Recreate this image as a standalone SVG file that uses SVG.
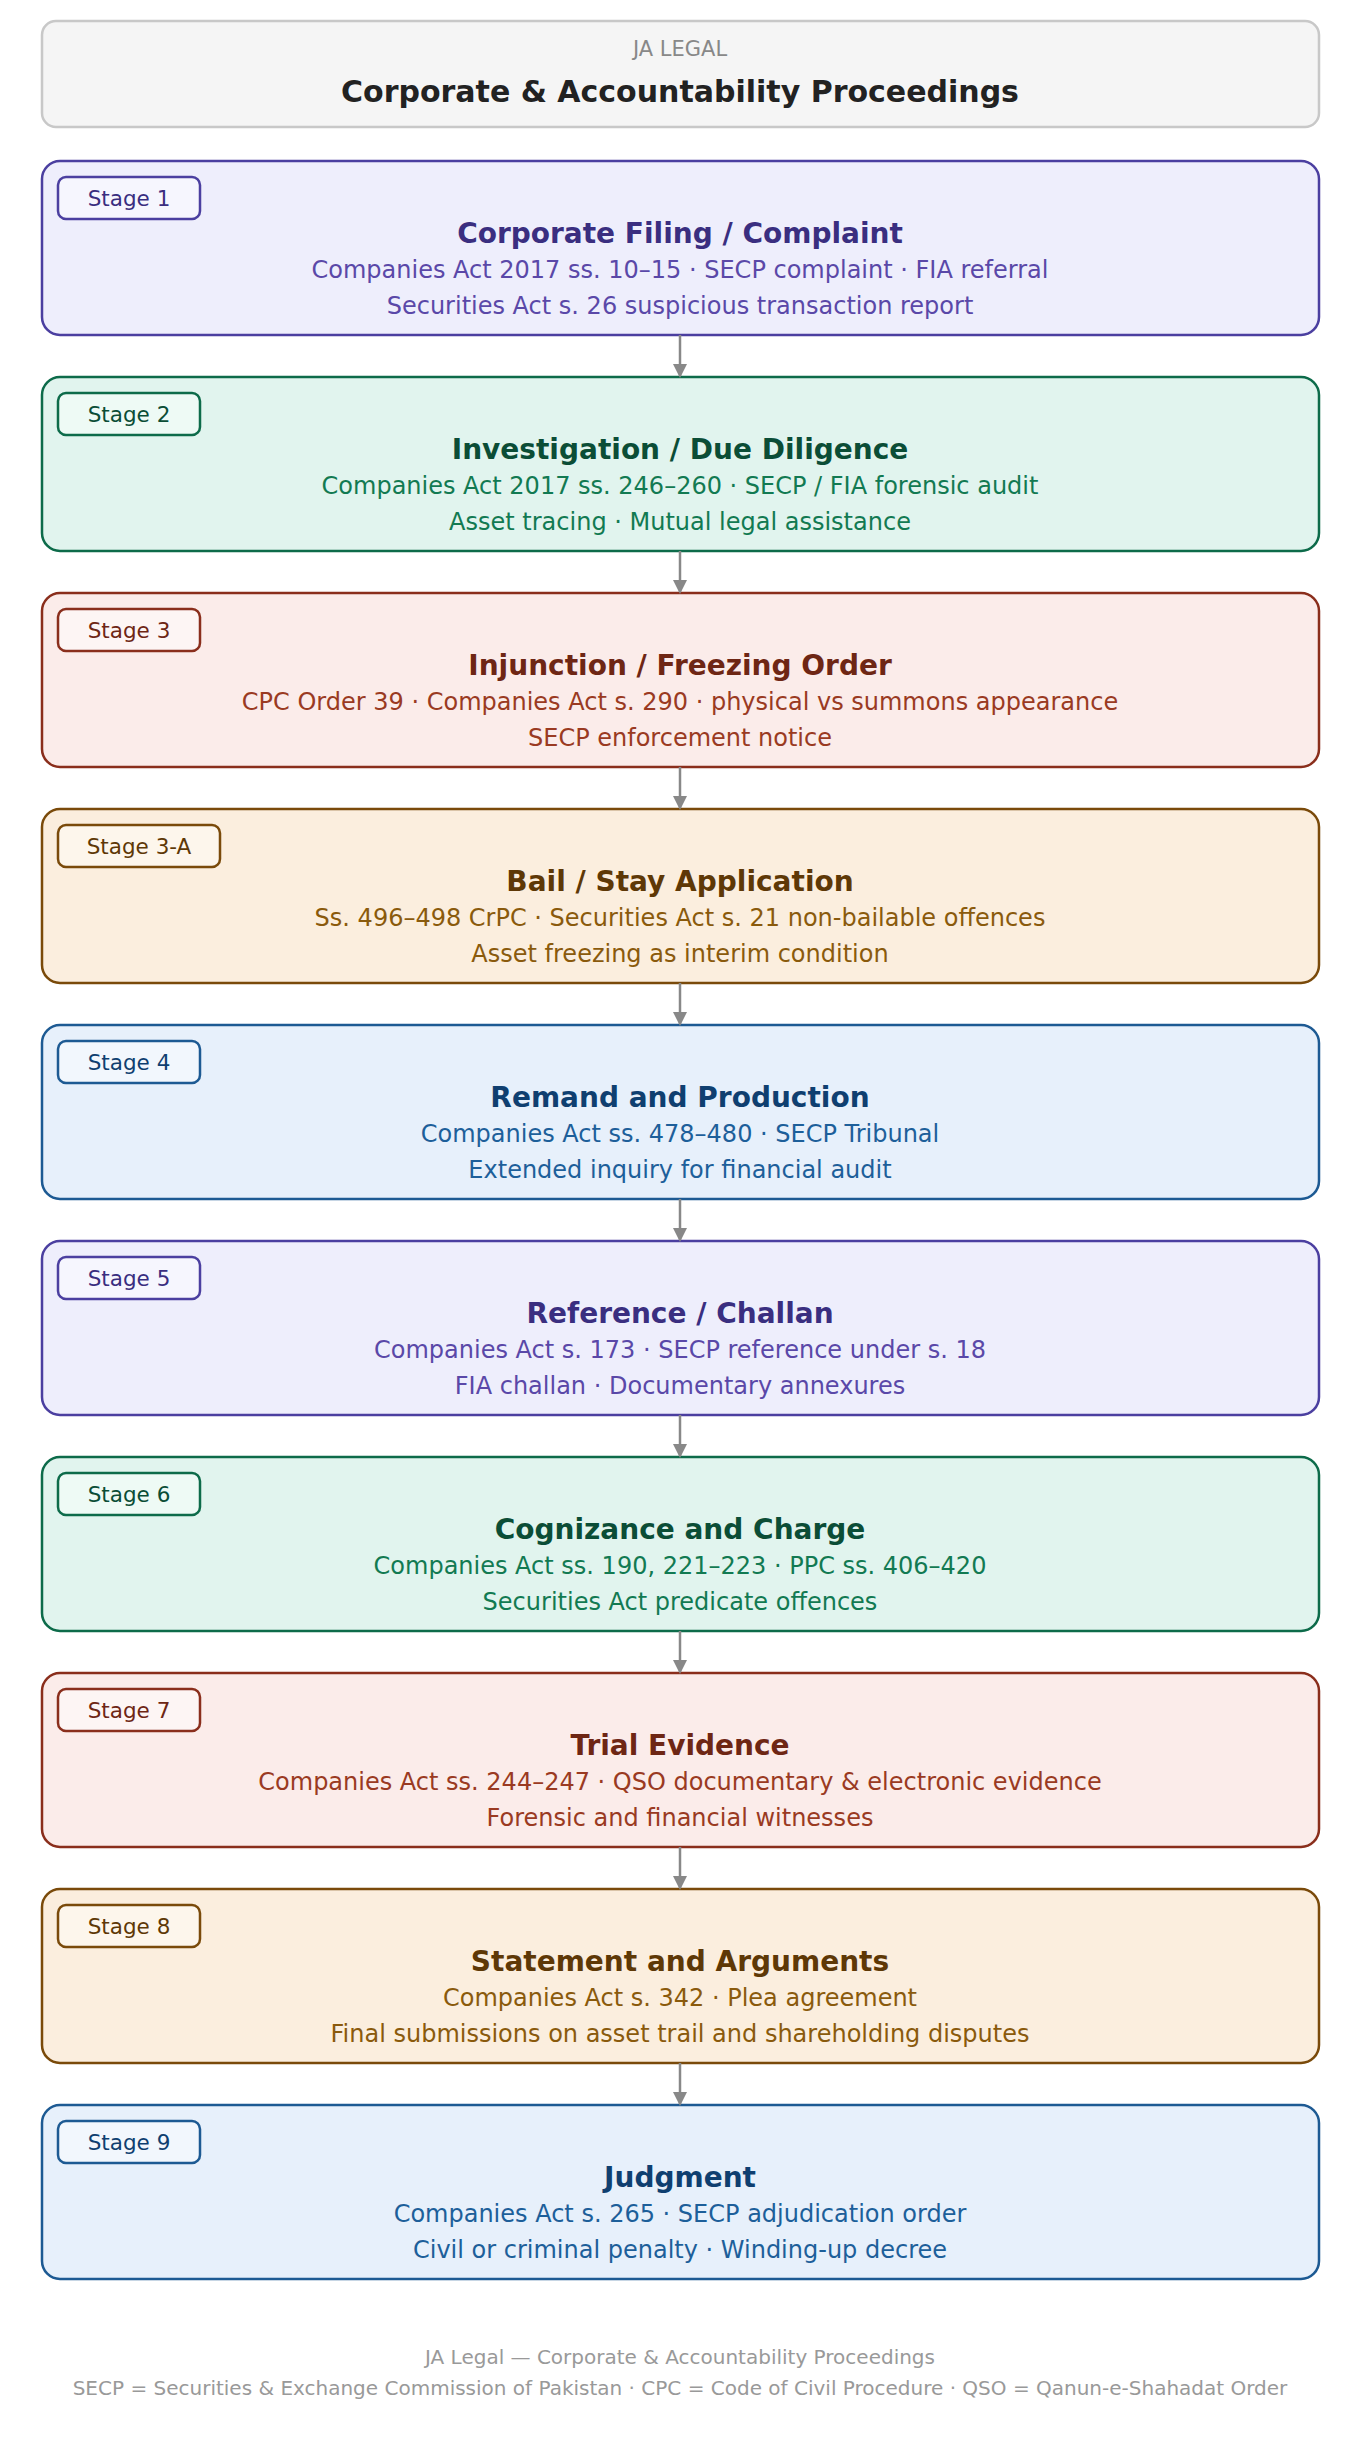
<svg xmlns="http://www.w3.org/2000/svg" width="1360" height="2440" viewBox="0 0 1360 2440">
<style>
text{font-family:"DejaVu Sans","Liberation Sans",sans-serif;text-anchor:middle}
.box{stroke-width:2.5}
.badge{stroke-width:2.5}
.bt{font-size:21.5px;text-anchor:middle}
.t{font-size:28px;font-weight:bold}
.s{font-size:24px}
.p .box{fill:#eeeefc;stroke:#4b3fa0}.p .badge{fill:#f6f6fe;stroke:#4b3fa0}.p .bt,.p .t{fill:#3a2e80}.p .s{fill:#5a48a8}
.g .box{fill:#e1f4ee;stroke:#0d6b4a}.g .badge{fill:#eefaf5;stroke:#0d6b4a}.g .bt,.g .t{fill:#0b4d36}.g .s{fill:#127a52}
.r .box{fill:#fbecea;stroke:#8a2e1c}.r .badge{fill:#fdf5f4;stroke:#8a2e1c}.r .bt,.r .t{fill:#6e2614}.r .s{fill:#9a3a22}
.o .box{fill:#fbeede;stroke:#7a4a0a}.o .badge{fill:#fdf6ec;stroke:#7a4a0a}.o .bt,.o .t{fill:#5e3806}.o .s{fill:#8a5a0c}
.b .box{fill:#e7f0fb;stroke:#1d5a93}.b .badge{fill:#f2f7fd;stroke:#1d5a93}.b .bt,.b .t{fill:#0f3f70}.b .s{fill:#1d5f9a}
.c{stroke:#888;stroke-width:2.5;fill:none}
</style>
<defs><marker id="ah" markerWidth="14" markerHeight="14" refX="12" refY="7" orient="auto" markerUnits="userSpaceOnUse"><path d="M0,0 L14,7 L0,14 z" fill="#888"/></marker></defs>
<rect width="1360" height="2440" fill="#fff"/>
<g id="header">
<rect x="42" y="21" width="1277" height="106" rx="14" fill="#f5f5f5" stroke="#c8c8c8" stroke-width="2.5"/>
<text x="680" y="56" font-size="21" fill="#888">JA LEGAL</text>
<text x="680" y="102" font-size="30" font-weight="bold" fill="#222">Corporate &amp; Accountability Proceedings</text>
</g>
<g id="stage1" class="p" transform="translate(0,161)">
<rect class="box" x="42" y="0" width="1277" height="174" rx="18"/><rect class="badge" x="58" y="16" width="142" height="42" rx="8"/><text class="bt" x="129" y="45">Stage 1</text>
<text class="t" x="680" y="82">Corporate Filing / Complaint</text>
<text class="s" x="680" y="117">Companies Act 2017 ss. 10–15 · SECP complaint · FIA referral</text>
<text class="s" x="680" y="153">Securities Act s. 26 suspicious transaction report</text></g>
<g id="stage2" class="g" transform="translate(0,377)">
<rect class="box" x="42" y="0" width="1277" height="174" rx="18"/><rect class="badge" x="58" y="16" width="142" height="42" rx="8"/><text class="bt" x="129" y="45">Stage 2</text>
<text class="t" x="680" y="82">Investigation / Due Diligence</text>
<text class="s" x="680" y="117">Companies Act 2017 ss. 246–260 · SECP / FIA forensic audit</text>
<text class="s" x="680" y="153">Asset tracing · Mutual legal assistance</text></g>
<g id="stage3" class="r" transform="translate(0,593)">
<rect class="box" x="42" y="0" width="1277" height="174" rx="18"/><rect class="badge" x="58" y="16" width="142" height="42" rx="8"/><text class="bt" x="129" y="45">Stage 3</text>
<text class="t" x="680" y="82">Injunction / Freezing Order</text>
<text class="s" x="680" y="117">CPC Order 39 · Companies Act s. 290 · physical vs summons appearance</text>
<text class="s" x="680" y="153">SECP enforcement notice</text></g>
<g id="stage3a" class="o" transform="translate(0,809)">
<rect class="box" x="42" y="0" width="1277" height="174" rx="18"/><rect class="badge" x="58" y="16" width="162" height="42" rx="8"/><text class="bt" x="139" y="45">Stage 3-A</text>
<text class="t" x="680" y="82">Bail / Stay Application</text>
<text class="s" x="680" y="117">Ss. 496–498 CrPC · Securities Act s. 21 non-bailable offences</text>
<text class="s" x="680" y="153">Asset freezing as interim condition</text></g>
<g id="stage4" class="b" transform="translate(0,1025)">
<rect class="box" x="42" y="0" width="1277" height="174" rx="18"/><rect class="badge" x="58" y="16" width="142" height="42" rx="8"/><text class="bt" x="129" y="45">Stage 4</text>
<text class="t" x="680" y="82">Remand and Production</text>
<text class="s" x="680" y="117">Companies Act ss. 478–480 · SECP Tribunal</text>
<text class="s" x="680" y="153">Extended inquiry for financial audit</text></g>
<g id="stage5" class="p" transform="translate(0,1241)">
<rect class="box" x="42" y="0" width="1277" height="174" rx="18"/><rect class="badge" x="58" y="16" width="142" height="42" rx="8"/><text class="bt" x="129" y="45">Stage 5</text>
<text class="t" x="680" y="82">Reference / Challan</text>
<text class="s" x="680" y="117">Companies Act s. 173 · SECP reference under s. 18</text>
<text class="s" x="680" y="153">FIA challan · Documentary annexures</text></g>
<g id="stage6" class="g" transform="translate(0,1457)">
<rect class="box" x="42" y="0" width="1277" height="174" rx="18"/><rect class="badge" x="58" y="16" width="142" height="42" rx="8"/><text class="bt" x="129" y="45">Stage 6</text>
<text class="t" x="680" y="82">Cognizance and Charge</text>
<text class="s" x="680" y="117">Companies Act ss. 190, 221–223 · PPC ss. 406–420</text>
<text class="s" x="680" y="153">Securities Act predicate offences</text></g>
<g id="stage7" class="r" transform="translate(0,1673)">
<rect class="box" x="42" y="0" width="1277" height="174" rx="18"/><rect class="badge" x="58" y="16" width="142" height="42" rx="8"/><text class="bt" x="129" y="45">Stage 7</text>
<text class="t" x="680" y="82">Trial Evidence</text>
<text class="s" x="680" y="117">Companies Act ss. 244–247 · QSO documentary &amp; electronic evidence</text>
<text class="s" x="680" y="153">Forensic and financial witnesses</text></g>
<g id="stage8" class="o" transform="translate(0,1889)">
<rect class="box" x="42" y="0" width="1277" height="174" rx="18"/><rect class="badge" x="58" y="16" width="142" height="42" rx="8"/><text class="bt" x="129" y="45">Stage 8</text>
<text class="t" x="680" y="82">Statement and Arguments</text>
<text class="s" x="680" y="117">Companies Act s. 342 · Plea agreement</text>
<text class="s" x="680" y="153">Final submissions on asset trail and shareholding disputes</text></g>
<g id="stage9" class="b" transform="translate(0,2105)">
<rect class="box" x="42" y="0" width="1277" height="174" rx="18"/><rect class="badge" x="58" y="16" width="142" height="42" rx="8"/><text class="bt" x="129" y="45">Stage 9</text>
<text class="t" x="680" y="82">Judgment</text>
<text class="s" x="680" y="117">Companies Act s. 265 · SECP adjudication order</text>
<text class="s" x="680" y="153">Civil or criminal penalty · Winding-up decree</text></g>
<g id="connectors">
<path class="c" d="M680,335 V376" marker-end="url(#ah)"/>
<path class="c" d="M680,551 V592" marker-end="url(#ah)"/>
<path class="c" d="M680,767 V808" marker-end="url(#ah)"/>
<path class="c" d="M680,983 V1024" marker-end="url(#ah)"/>
<path class="c" d="M680,1199 V1240" marker-end="url(#ah)"/>
<path class="c" d="M680,1415 V1456" marker-end="url(#ah)"/>
<path class="c" d="M680,1631 V1672" marker-end="url(#ah)"/>
<path class="c" d="M680,1847 V1888" marker-end="url(#ah)"/>
<path class="c" d="M680,2063 V2104" marker-end="url(#ah)"/>
</g>
<g id="footer">
<text x="680" y="2364" font-size="20" fill="#999">JA Legal — Corporate &amp; Accountability Proceedings</text>
<text x="680" y="2395" font-size="20" fill="#999">SECP = Securities &amp; Exchange Commission of Pakistan · CPC = Code of Civil Procedure · QSO = Qanun-e-Shahadat Order</text>
</g>
</svg>
